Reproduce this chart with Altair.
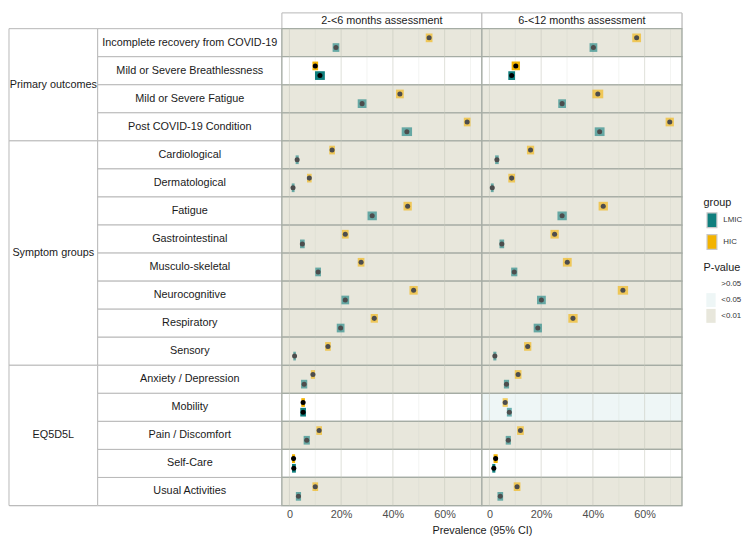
import altair as alt
import pandas as pd

FONT = "Liberation Sans"

outcomes = [
    "Incomplete recovery from COVID-19", "Mild or Severe Breathlessness",
    "Mild or Severe Fatigue", "Post COVID-19 Condition",
    "Cardiological", "Dermatological", "Fatigue", "Gastrointestinal",
    "Musculo-skeletal", "Neurocognitive", "Respiratory", "Sensory",
    "Anxiety / Depression", "Mobility", "Pain / Discomfort", "Self-Care",
    "Usual Activities",
]
outcome_groups = (["Primary outcomes"] * 4 + ["Symptom groups"] * 8 + ["EQ5D5L"] * 5)
group_order = ["Primary outcomes", "Symptom groups", "EQ5D5L"]
periods = ["2-<6 months assessment", "6-<12 months assessment"]
income_groups = ["LMIC", "HIC"]
pvalue_levels = [">0.05", "<0.05", "<0.01"]

p_2_6 = ["<0.01", ">0.05", "<0.01", "<0.01",
         "<0.01", "<0.01", "<0.01", "<0.01", "<0.01", "<0.01", "<0.01", "<0.01",
         "<0.01", ">0.05", "<0.01", ">0.05", "<0.01"]
p_6_12 = ["<0.01", ">0.05", "<0.01", "<0.01",
          "<0.01", "<0.01", "<0.01", "<0.01", "<0.01", "<0.01", "<0.01", "<0.01",
          "<0.01", "<0.05", "<0.01", ">0.05", "<0.01"]

# 2-<6 months
hic_est_2_6 = [54.0, 10.0, 42.7, 68.7, 16.5, 7.7, 45.7, 21.6, 27.7, 48.0, 32.8, 14.9, 9.1, 5.3, 11.5, 1.6, 10.0]
hic_lo_2_6 = [52.7, 8.9, 41.2, 67.4, 15.4, 6.8, 44.1, 20.3, 26.4, 46.4, 31.4, 13.8, 8.3, 4.6, 10.4, 1.0, 8.9]
hic_hi_2_6 = [55.3, 11.1, 44.2, 70.0, 17.6, 8.6, 47.3, 22.9, 29.0, 49.6, 34.2, 16.0, 9.9, 6.0, 12.6, 2.2, 11.1]
lmic_est_2_6 = [18.0, 11.8, 28.1, 45.4, 3.0, 1.4, 32.0, 5.0, 11.1, 21.6, 19.8, 2.0, 5.7, 5.3, 6.7, 1.7, 3.5]
lmic_lo_2_6 = [16.7, 9.9, 26.4, 43.4, 2.4, 0.9, 30.2, 4.1, 10.0, 20.1, 18.3, 1.5, 4.5, 4.2, 5.5, 1.0, 2.5]
lmic_hi_2_6 = [19.3, 13.7, 29.8, 47.4, 3.6, 2.0, 33.8, 5.9, 12.2, 23.1, 21.3, 2.5, 6.9, 6.4, 7.9, 2.5, 4.5]
# 6-<12 months
hic_est_6_12 = [56.9, 10.2, 41.9, 69.7, 15.9, 8.6, 44.0, 25.2, 30.1, 51.6, 32.3, 14.8, 11.1, 6.1, 12.0, 2.4, 10.7]
hic_lo_6_12 = [55.2, 8.6, 39.8, 68.1, 14.5, 7.3, 42.2, 23.6, 28.4, 49.6, 30.5, 13.4, 9.8, 5.1, 10.7, 1.6, 9.4]
hic_hi_6_12 = [58.6, 11.8, 44.0, 71.3, 17.3, 9.9, 45.8, 26.8, 31.8, 53.6, 34.1, 16.2, 12.4, 7.1, 13.3, 3.2, 12.0]
lmic_est_6_12 = [40.2, 8.6, 28.1, 42.6, 2.9, 1.1, 28.1, 4.8, 9.6, 20.1, 18.7, 2.1, 6.6, 7.7, 7.3, 1.7, 4.2]
lmic_lo_6_12 = [38.7, 7.3, 26.6, 40.7, 2.2, 0.55, 26.3, 3.9, 8.4, 18.4, 17.1, 1.5, 5.6, 6.75, 6.3, 1.1, 3.1]
lmic_hi_6_12 = [41.7, 9.9, 29.6, 44.5, 3.6, 1.65, 29.9, 5.7, 10.8, 21.8, 20.3, 2.7, 7.6, 8.65, 8.3, 2.3, 5.3]

major_ticks = [0, 20, 40, 60]
grid_ticks = [0, 10, 20, 30, 40, 50, 60, 70]
x_title = "Prevalence (95% CI)"

# ---- build tables ----
series = {
    periods[0]: {"HIC": (hic_est_2_6, hic_lo_2_6, hic_hi_2_6),
                 "LMIC": (lmic_est_2_6, lmic_lo_2_6, lmic_hi_2_6)},
    periods[1]: {"HIC": (hic_est_6_12, hic_lo_6_12, hic_hi_6_12),
                 "LMIC": (lmic_est_6_12, lmic_lo_6_12, lmic_hi_6_12)},
}
pvals = {periods[0]: p_2_6, periods[1]: p_6_12}

rows = []
bg_rows = []
for period in periods:
    for i, o in enumerate(outcomes):
        bg_rows.append({"period": period, "outcome": o, "p": pvals[period][i]})
        for grp in income_groups:
            est, lo, hi = series[period][grp]
            rows.append({"period": period, "outcome": o, "group": grp,
                         "est": est[i], "lo": lo[i], "hi": hi[i],
                         "p": pvals[period][i]})
df = pd.DataFrame(rows)
bg_df = pd.DataFrame(bg_rows)
grid_df = pd.DataFrame({"v": grid_ticks, "major": [t in major_ticks for t in grid_ticks]})
lab_df = pd.DataFrame({"outcome": outcomes, "grp": outcome_groups})

g_rows = []
for g in group_order:
    idx = [i for i, x in enumerate(outcome_groups) if x == g]
    g_rows.append({"grp": g, "start": idx[0], "end": idx[-1] + 1,
                   "mid": (idx[0] + idx[-1] + 1) / 2})
g_df = pd.DataFrame(g_rows)

# ---- styling ----
ROWS_H = 484
HEAD_H = 16
GCOL_W = 90
OCOL_W = 187
PANEL_W = 203
TEAL = "#0f7f7e"
GOLD = "#f3b300"
PANEL_STROKE = "#a5aca4"
LABEL_STROKE = "#b8b8b8"

xs = alt.Scale(domain=[-2.9, 74.4], nice=False, zero=False)
ys = alt.Scale(domain=outcomes, paddingInner=0, paddingOuter=0)
Y = alt.Y("outcome:N", scale=ys, axis=None, sort=outcomes)
YOFF = alt.YOffset("group:N", sort=["HIC", "LMIC"],
                   scale=alt.Scale(domain=["HIC", "LMIC"], paddingInner=0.1, paddingOuter=0.5))


def make_axis(with_title):
    kw = dict(values=major_ticks, labelExpr="datum.value == 0 ? '0' : datum.value + '%'",
              ticks=False, domain=False, grid=False, labelFontSize=11,
              labelColor="#4d4d4d", labelPadding=3, labelFont=FONT)
    if with_title:
        kw.update(title=x_title, titleX=PANEL_W, titleAlign="center", titleFontSize=11,
                  titleFontWeight="normal", titleFont=FONT, titleColor="#1a1a1a",
                  titlePadding=5)
    else:
        kw.update(title=None)
    return alt.Axis(**kw)


SYM = "M-0.667,-1H0.667V1H-0.667Z"
group_legend = alt.Legend(title="group", orient="none", legendX=705, legendY=187,
                          symbolType=SYM, symbolSize=225, symbolStrokeColor="#c8c8c8",
                          symbolStrokeWidth=1.2, symbolOpacity=1, labelFontSize=8, titleFontSize=11,
                          titleFontWeight="normal", rowPadding=1, titlePadding=4,
                          padding=0, labelOffset=3, labelFont=FONT, titleFont=FONT,
                          labelColor="#333333", titleColor="#1a1a1a")
p_legend = alt.Legend(title="P-value", orient="none", legendX=705, legendY=253,
                      symbolType=SYM, symbolSize=200, symbolStrokeWidth=0,
                      labelFontSize=8, titleFontSize=11, titleFontWeight="normal",
                      rowPadding=1, titlePadding=4, padding=0, labelOffset=3,
                      labelFont=FONT, titleFont=FONT, labelColor="#333333",
                      titleColor="#1a1a1a")

SIG = "datum.p != '>0.05'"


def body(period, with_title):
    AX = make_axis(with_title)
    bg = alt.Chart(bg_df).transform_filter(alt.datum.period == period).mark_rect(
        stroke=PANEL_STROKE, strokeWidth=1.3
    ).encode(
        y=Y, x=alt.value(0), x2=alt.value("width"),
        fill=alt.Fill("p:N", scale=alt.Scale(domain=pvalue_levels,
                                             range=["#ffffff", "#eef6f6", "#e8e7dc"]),
                      legend=p_legend),
    )
    grid = alt.Chart(grid_df).mark_rule(color="#c4c5bb").encode(
        x=alt.X("v:Q", scale=xs, axis=AX),
        strokeWidth=alt.condition("datum.major", alt.value(1), alt.value(0.5)),
        opacity=alt.condition("datum.major", alt.value(0.55), alt.value(0.4)),
    )
    base = alt.Chart(df).transform_filter(alt.datum.period == period)
    bars = base.mark_bar().encode(
        x=alt.X("lo:Q", scale=xs, axis=AX), x2="hi:Q", y=Y, yOffset=YOFF,
        color=alt.Color("group:N", scale=alt.Scale(domain=income_groups, range=[TEAL, GOLD]),
                        legend=group_legend),
        opacity=alt.condition(SIG, alt.value(0.6), alt.value(1)),
    )
    pts = base.mark_circle(size=26, opacity=1).encode(
        x=alt.X("est:Q", scale=xs, axis=AX), y=Y, yOffset=YOFF,
        color=alt.condition(SIG, alt.value("#4d4d4d"), alt.value("black")),
    )
    return alt.layer(bg, grid, bars, pts).properties(width=PANEL_W, height=ROWS_H)


def header(period):
    d = pd.DataFrame({"period": [period]})
    rect = alt.Chart(d).mark_rect(fill="white", stroke=LABEL_STROKE, strokeWidth=1).encode(
        x=alt.value(0), x2=alt.value("width"), y=alt.value(0), y2=alt.value("height"))
    txt = alt.Chart(d).mark_text(font=FONT, fontSize=11, color="#1a1a1a").encode(text="period:N")
    return alt.layer(rect, txt).properties(width=PANEL_W, height=HEAD_H)


def spacer(w):
    return alt.Chart(pd.DataFrame({"a": [0]})).mark_text(text="").properties(
        width=w, height=HEAD_H)


ocol = alt.layer(
    alt.Chart(lab_df).mark_rect(fill="white", stroke=LABEL_STROKE, strokeWidth=1).encode(
        y=Y, x=alt.value(0), x2=alt.value("width")),
    alt.Chart(lab_df).mark_text(font=FONT, fontSize=11, color="#1a1a1a").encode(
        y=Y, text="outcome:N"),
).properties(width=OCOL_W, height=ROWS_H)

yq = alt.Scale(domain=[0, len(outcomes)], reverse=True, nice=False, zero=False)
gcol = alt.layer(
    alt.Chart(g_df).mark_rect(fill="white", stroke=LABEL_STROKE, strokeWidth=1).encode(
        y=alt.Y("start:Q", scale=yq, axis=None), y2="end:Q",
        x=alt.value(0), x2=alt.value("width")),
    alt.Chart(g_df).mark_text(font=FONT, fontSize=11, color="#1a1a1a").encode(
        y=alt.Y("mid:Q", scale=yq, axis=None), text="grp:N"),
).properties(width=GCOL_W, height=ROWS_H)

chart = alt.concat(
    spacer(GCOL_W), spacer(OCOL_W), header(periods[0]), header(periods[1]),
    gcol, ocol, body(periods[0], True), body(periods[1], False),
    columns=4, spacing=0, bounds="flush",
).properties(padding=0).configure_view(stroke=None).configure(font=FONT)

chart.save("out.html", embed_options={"renderer": "svg", "actions": False})
